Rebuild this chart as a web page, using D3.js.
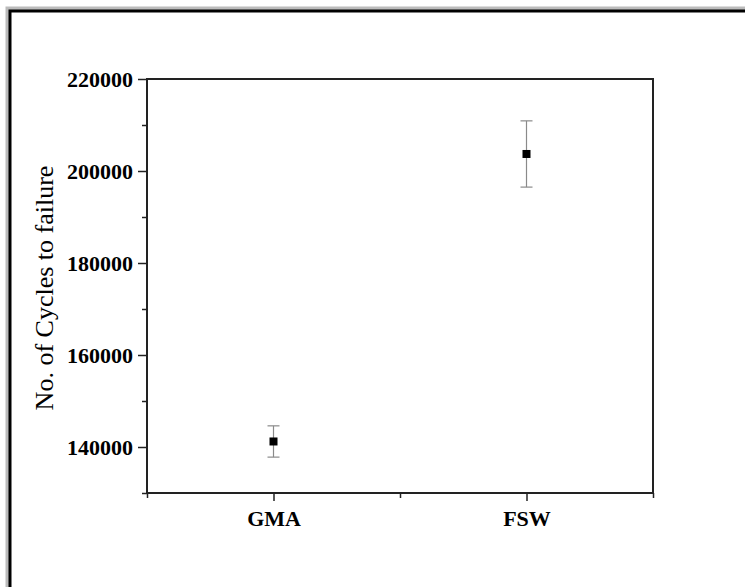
<!DOCTYPE html>
<html>
<head>
<meta charset="utf-8">
<script src="https://cdn.jsdelivr.net/npm/d3@7"></script>
<style>
  body { margin: 0; background: #fff; }
  svg { display: block; }
  text { font-family: "Times New Roman", "Liberation Serif", serif; fill: #000; }
</style>
</head>
<body>
<div id="chart"></div>
<script>
// Data
const categories = ["GMA", "FSW"];
const cycles = [141200, 203700];
const errors = [3400, 7200];
const yMajorTicks = [140000, 160000, 180000, 200000, 220000];
const yMinorTicks = [130000, 150000, 170000, 190000, 210000];
const xMinorTicks = [0.5, 1.5, 2.5];

const width = 745, height = 587;
const margin = { top: 79, right: 92, bottom: 94, left: 147 };

const svg = d3.select("#chart").append("svg")
  .attr("width", width)
  .attr("height", height);

// Outer frame with soft shadow
svg.append("rect")
  .attr("x", 8).attr("y", 9)
  .attr("width", 800).attr("height", 700)
  .attr("fill", "none")
  .attr("stroke", "#bbb")
  .attr("stroke-width", 5);
svg.append("rect")
  .attr("x", 10).attr("y", 11)
  .attr("width", 800).attr("height", 700)
  .attr("fill", "#fff")
  .attr("stroke", "#000")
  .attr("stroke-width", 3);

const x = d3.scaleLinear()
  .domain([0.5, 2.5])
  .range([margin.left, width - margin.right]);

const y = d3.scaleLinear()
  .domain([130000, 220000])
  .range([height - margin.bottom, margin.top]);

// Minor ticks
svg.append("g")
  .attr("transform", `translate(${margin.left},0)`)
  .call(d3.axisLeft(y).tickValues(yMinorTicks).tickSize(5).tickFormat(""))
  .call(g => g.select(".domain").remove())
  .call(g => g.selectAll("line").attr("stroke", "#222").attr("stroke-width", 1.5));

svg.append("g")
  .attr("transform", `translate(0,${height - margin.bottom})`)
  .call(d3.axisBottom(x).tickValues(xMinorTicks).tickSize(5).tickFormat(""))
  .call(g => g.select(".domain").remove())
  .call(g => g.selectAll("line").attr("stroke", "#222").attr("stroke-width", 1.5));

// Major y axis
svg.append("g")
  .attr("transform", `translate(${margin.left},0)`)
  .call(d3.axisLeft(y).tickValues(yMajorTicks).tickSize(9).tickPadding(5).tickFormat(d3.format("d")))
  .call(g => g.select(".domain").remove())
  .call(g => g.selectAll("line").attr("stroke", "#222").attr("stroke-width", 1.5))
  .call(g => g.selectAll("text")
    .attr("font-family", "'Times New Roman', 'Liberation Serif', serif")
    .attr("font-size", 22)
    .attr("font-weight", "bold")
    .attr("fill", "#000"));

// Major x axis
svg.append("g")
  .attr("transform", `translate(0,${height - margin.bottom})`)
  .call(d3.axisBottom(x).tickValues([1, 2]).tickSize(8).tickPadding(9)
    .tickFormat(d => categories[d - 1]))
  .call(g => g.select(".domain").remove())
  .call(g => g.selectAll("line").attr("stroke", "#222").attr("stroke-width", 1.5))
  .call(g => g.selectAll("text")
    .attr("font-family", "'Times New Roman', 'Liberation Serif', serif")
    .attr("font-size", 22)
    .attr("font-weight", "bold")
    .attr("fill", "#000"));

// Plot box
svg.append("rect")
  .attr("x", margin.left)
  .attr("y", margin.top)
  .attr("width", width - margin.left - margin.right)
  .attr("height", height - margin.top - margin.bottom)
  .attr("fill", "none")
  .attr("stroke", "#222")
  .attr("stroke-width", 2);

// Y label
svg.append("text")
  .attr("transform", `translate(53,${(margin.top + height - margin.bottom) / 2 + 2}) rotate(-90)`)
  .attr("text-anchor", "middle")
  .attr("font-size", 26)
  .text("No. of Cycles to failure");

// Error bars and points
const pts = categories.map((c, i) => ({ c, v: cycles[i], e: errors[i], pos: i + 1 }));

const bars = svg.append("g").attr("class", "errorbars")
  .attr("stroke", "#8a8a8a")
  .attr("stroke-width", 1.2);

bars.selectAll("line.stem")
  .data(pts)
  .join("line")
  .attr("class", "stem")
  .attr("x1", d => x(d.pos)).attr("x2", d => x(d.pos))
  .attr("y1", d => y(d.v + d.e)).attr("y2", d => y(d.v - d.e));

bars.selectAll("line.capTop")
  .data(pts)
  .join("line")
  .attr("class", "capTop")
  .attr("x1", d => x(d.pos) - 6).attr("x2", d => x(d.pos) + 6)
  .attr("y1", d => y(d.v + d.e)).attr("y2", d => y(d.v + d.e));

bars.selectAll("line.capBot")
  .data(pts)
  .join("line")
  .attr("class", "capBot")
  .attr("x1", d => x(d.pos) - 6).attr("x2", d => x(d.pos) + 6)
  .attr("y1", d => y(d.v - d.e)).attr("y2", d => y(d.v - d.e));

svg.append("g").selectAll("rect")
  .data(pts)
  .join("rect")
  .attr("x", d => x(d.pos) - 4)
  .attr("y", d => y(d.v) - 4)
  .attr("width", 8)
  .attr("height", 8)
  .attr("fill", "#000");
</script>
</body>
</html>
